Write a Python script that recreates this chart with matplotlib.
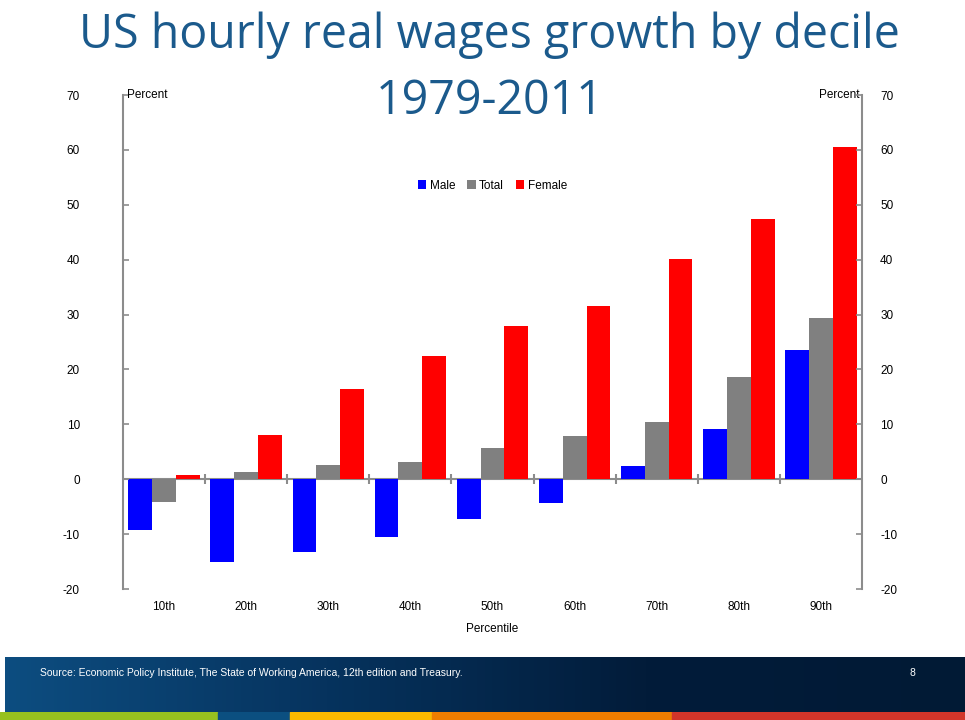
import matplotlib
matplotlib.use('Agg')
import matplotlib.pyplot as plt
import numpy as np
from matplotlib.colors import LinearSegmentedColormap

# data
deciles = ['10th', '20th', '30th', '40th', '50th', '60th', '70th', '80th', '90th']
male = [-9.3, -15.0, -13.3, -10.6, -7.3, -4.4, 2.5, 9.1, 23.5]
total = [-4.2, 1.3, 2.6, 3.1, 5.6, 7.8, 10.4, 18.6, 29.3]
female = [0.7, 8.0, 16.4, 22.4, 28.0, 31.5, 40.1, 47.4, 60.5]
yticks = [-20, -10, 0, 10, 20, 30, 40, 50, 60, 70]
strip_colors = ['#97c11f', '#0b4f80', '#fbb900', '#ef7d00', '#d2352a']
strip_edges = [0, 218, 290, 432, 672, 965]

plt.rcParams['font.family'] = ['Liberation Sans', 'DejaVu Sans']
plt.rcParams['axes.unicode_minus'] = False

fig = plt.figure(figsize=(9.65, 7.2), dpi=100)
ax = fig.add_axes([123 / 965, 1 - 589 / 720, 739 / 965, 494 / 720])

x = np.arange(len(deciles))
w = 0.29
ax.bar(x - w, male, w, color='#0000ff', label='Male')
ax.bar(x, total, w, color='#808080', label='Total')
ax.bar(x + w, female, w, color='#ff0000', label='Female')

ax.axhline(0, color='#8c8c8c', lw=1.5, zorder=0)
ax.plot(x[:-1] + 0.5, np.zeros(len(x) - 1), '|', color='#8c8c8c', ms=7, mew=1.5)

ax.set_xlim(-0.5, len(deciles) - 0.5)
ax.set_ylim(-20, 70)
ax.set_yticks(yticks)
ax.set_xticks(x)
ax.set_xticklabels(deciles)
ax.tick_params(axis='x', length=0, pad=9, labelsize=8.5)
ax.tick_params(axis='y', direction='in', length=4, width=1.2, color='#8c8c8c',
               labelsize=8.5, pad=31)
for s in ['top', 'bottom', 'right']:
    ax.spines[s].set_visible(False)
ax.spines['left'].set_color('#8c8c8c')
ax.spines['left'].set_linewidth(1.5)

ax2 = ax.twinx()
ax2.set_ylim(-20, 70)
ax2.set_yticks(yticks)
ax2.tick_params(axis='y', direction='in', length=4, width=1.2, color='#8c8c8c',
                labelsize=8.5, pad=13)
for s in ['top', 'bottom', 'left']:
    ax2.spines[s].set_visible(False)
ax2.spines['right'].set_color('#8c8c8c')
ax2.spines['right'].set_linewidth(1.5)

ax.text(0.006, 1.0, 'Percent', transform=ax.transAxes, fontsize=8.5, va='center', ha='left')
ax.text(0.997, 1.0, 'Percent', transform=ax.transAxes, fontsize=8.5, va='center', ha='right')
ax.set_xlabel('Percentile', fontsize=8.5, labelpad=7)

ax.legend(loc='upper center', bbox_to_anchor=(0.5, 0.85), ncol=3, frameon=False,
          fontsize=8.5, handlelength=0.7, handleheight=0.7, handletextpad=0.3,
          columnspacing=1.0)

fig.text(0.507, 0.951, 'US hourly real wages growth by decile', ha='center', va='center',
         fontsize=33.5, color='#1b5a8c', family=['Open Sans', 'DejaVu Sans'])
fig.text(0.507, 0.860, '1979-2011', ha='center', va='center',
         fontsize=33.5, color='#1b5a8c', family=['Open Sans', 'DejaVu Sans'])

# footer band
fax = fig.add_axes([5 / 965, 8 / 720, 960 / 965, 55 / 720])
grad = np.linspace(0, 1, 256).reshape(1, -1)
cmap = LinearSegmentedColormap.from_list('foot', ['#0d4d80', '#06335e', '#021c3a', '#011a35'])
fax.imshow(grad, aspect='auto', cmap=cmap, extent=[0, 1, 0, 1])
fax.set_axis_off()
fig.text(40 / 965, 1 - 673 / 720, 'Source: Economic Policy Institute, The State of Working America, 12th edition and Treasury.',
         color='white', fontsize=7.5, va='center', ha='left')
fig.text(912 / 965, 1 - 673 / 720, '8', color='white', fontsize=7.5, va='center', ha='center')

sax = fig.add_axes([0, 0, 1, 8 / 720])
for i, c in enumerate(strip_colors):
    sax.axvspan(strip_edges[i], strip_edges[i + 1], color=c)
sax.set_xlim(0, 965)
sax.set_axis_off()

fig.savefig('out.png', dpi=100)
